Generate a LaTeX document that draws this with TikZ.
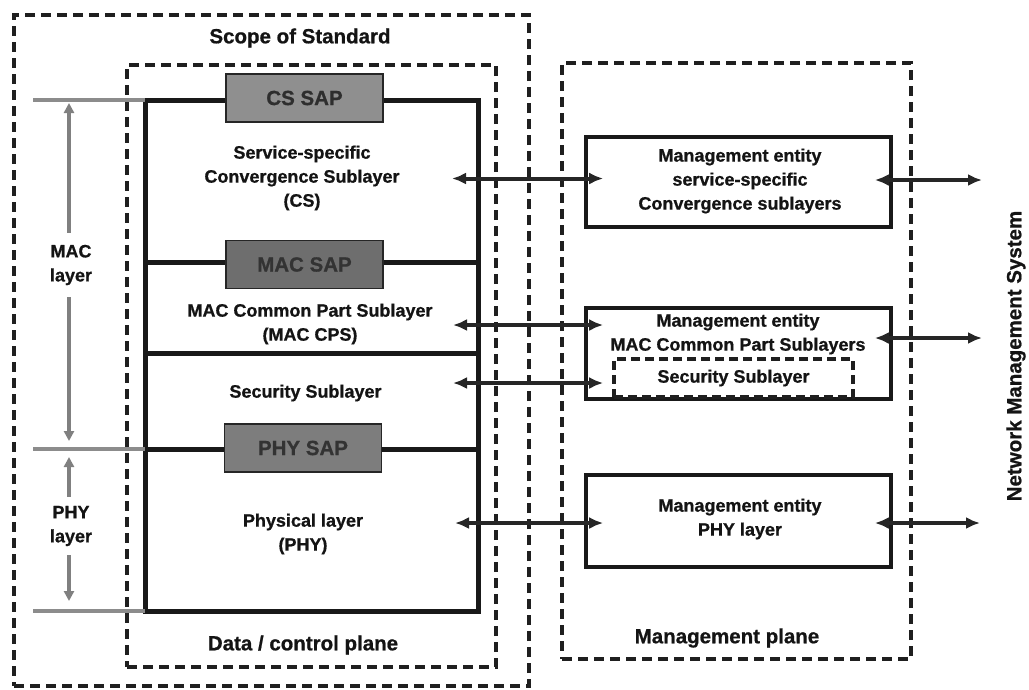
\documentclass[tikz,border=0pt]{standalone}
\usepackage{fontspec}
\setmainfont{Liberation Sans}[BoldFeatures={FakeBold=0.8}]
\usetikzlibrary{arrows.meta,calc}

\tikzset{
  dashbox/.style={draw=black!88, line width=3.6pt, dash pattern=on 10pt off 6pt, inner sep=0pt},
  stackline/.style={draw=black!90, line width=5pt},
  sapbox/.style={draw=black!85, line width=1.8pt, minimum width=157pt, minimum height=48pt,
                 inner sep=0pt, font=\bfseries\fontsize{20.5}{20}\selectfont},
  body/.style={font=\bfseries\fontsize{18}{24}\selectfont, align=center, text=black!92, inner sep=0pt},
  heading/.style={font=\bfseries\fontsize{20.5}{24}\selectfont, text=black!92, inner sep=0pt},
  mgmtbox/.style={draw=black!90, line width=3.6pt, inner sep=0pt},
  guide/.style={draw=black!45, line width=3.5pt},
  span/.style={draw=black!50, line width=3.5pt, -{Triangle[length=10pt,width=10pt]}},
  link/.style={draw=black!85, line width=4pt,
               {Latex[length=14pt,width=12pt]}-{Latex[length=14pt,width=12pt]}}
}

\begin{document}
\begin{tikzpicture}[x=1pt,y=-1pt]
\useasboundingbox (0,0) rectangle (1029,689);

% planes
\node[dashbox, minimum width=515pt, minimum height=671pt] (scope) at (271.5,350.5) {};
\node[heading] (scopelbl) at (300,38) {Scope of Standard};
\node[dashbox, minimum width=369pt, minimum height=602pt] (dataplane) at (311.5,366) {};
\node[heading] (datalbl) at (303,645) {Data / control plane};
\node[dashbox, line width=3.2pt, minimum width=349pt, minimum height=596pt] (mgmtplane) at (736.5,361) {};
\node[heading] (mgmtlbl) at (727,638) {Management plane};

% layer stack
\node[stackline, minimum width=333pt, minimum height=511pt, inner sep=0pt, outer sep=0pt] (stack) at (311.5,355.5) {};
\coordinate (macY) at (0,262);
\coordinate (secY) at (0,353);
\coordinate (phyY) at (0,449);
\draw[stackline] (stack.west |- macY) -- (stack.east |- macY);
\draw[stackline] (stack.west |- secY) -- (stack.east |- secY);
\draw[stackline] (stack.west |- phyY) -- (stack.east |- phyY);

% service access points
\node[sapbox, fill=black!44, text=black!82] (cssap) at (304.5,98) {CS SAP};
\node[sapbox, fill=black!57, text=black!80] (macsap) at (304.5,264.5) {MAC SAP};
\node[sapbox, fill=black!51, text=black!80] (physap) at (303,448) {PHY SAP};

% sublayer texts
\node[body] (cstxt) at (302,178) {Service-specific\\Convergence Sublayer\\(CS)};
\node[body] (cpstxt) at (310,324) {MAC Common Part Sublayer\\(MAC CPS)};
\node[body] (sectxt) at (305.5,393) {Security Sublayer};
\node[body] (phytxt) at (303,534) {Physical layer\\(PHY)};

% layer extents on the left
\coordinate (g1) at (33,100);
\coordinate (g2) at (33,449);
\coordinate (g3) at (33,611);
\draw[guide] (g1) -- (g1 -| stack.west);
\draw[guide] (g2) -- (g2 -| stack.west);
\draw[guide] (g3) -- (g3 -| stack.west);

\node[body, inner ysep=12pt] (maclbl) at (71,265) {MAC\\layer};
\coordinate (macTop) at (69,103);
\coordinate (macBot) at (69,441);
\draw[span] (maclbl.north -| macTop) -- (macTop);
\draw[span] (maclbl.south -| macBot) -- (macBot);

\node[body, inner ysep=9pt] (phylbl) at (71,526) {PHY\\layer};
\coordinate (phyTop) at (69,457);
\coordinate (phyBot) at (69,601);
\draw[span] (phylbl.north -| phyTop) -- (phyTop);
\draw[span] (phylbl.south -| phyBot) -- (phyBot);

% management entities
\node[mgmtbox, minimum width=305pt, minimum height=90pt] (csm) at (738.5,182) {};
\node[body] (csmtxt) at (740,181) {Management entity\\service-specific\\Convergence sublayers};

\node[mgmtbox, minimum width=305pt, minimum height=91pt] (macm) at (738.5,353.5) {};
\node[body] (macmtxt) at (738,334) {Management entity\\MAC Common Part Sublayers};
\node[dashbox, line width=3.4pt, dash pattern=on 9pt off 5pt, minimum width=239pt, minimum height=38pt,
      font=\bfseries\fontsize{18}{24}\selectfont, text=black!92] (secm) at (733.5,378) {Security Sublayer};

\node[mgmtbox, minimum width=305pt, minimum height=92pt] (phym) at (738.5,521) {};
\node[body] (phymtxt) at (740,519) {Management entity\\PHY layer};

% data plane <-> management plane
\coordinate (csL) at (452,178.5);
\coordinate (cpsL) at (453,325);
\coordinate (secL) at (453,383);
\coordinate (phyL) at (455,523);
\draw[link] (csL) -- ($(csL -| csm.west)+(19,0)$);
\draw[link] (cpsL) -- ($(cpsL -| macm.west)+(19,0)$);
\draw[link] (secL) -- ($(secL -| macm.west)+(19,0)$);
\draw[link] (phyL) -- ($(phyL -| phym.west)+(19,0)$);

% management plane <-> network management system
\coordinate (csR) at (982,180);
\coordinate (macR) at (982,338);
\coordinate (phyR) at (980,523);
\draw[link] ($(csR -| csm.east)+(-18,0)$) -- (csR);
\draw[link] ($(macR -| macm.east)+(-18,0)$) -- (macR);
\draw[link] ($(phyR -| phym.east)+(-18,0)$) -- (phyR);

\node[heading, rotate=90] (nms) at (1016,356) {Network Management System};
\end{tikzpicture}
\end{document}
